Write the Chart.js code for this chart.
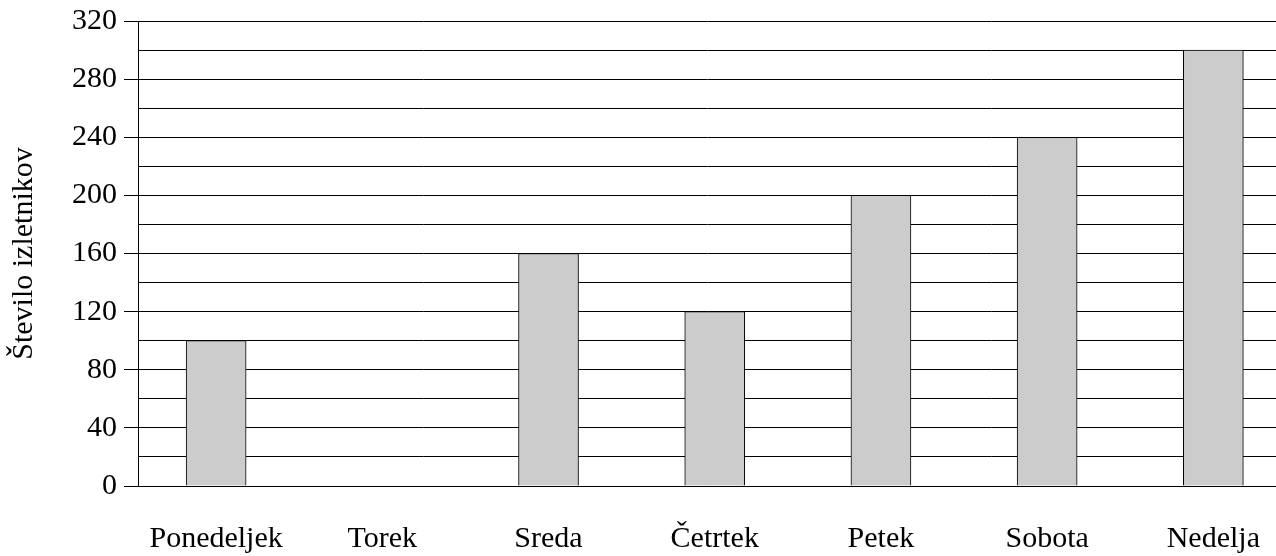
<!DOCTYPE html>
<html>
<head>
<meta charset="utf-8">
<script src="https://cdn.jsdelivr.net/npm/chart.js@4/dist/chart.umd.min.js"></script>
<style>
  html, body { margin: 0; padding: 0; background: #fff; }
  #wrap { width: 1276px; height: 556px; }
</style>
</head>
<body>
<div id="wrap"><canvas id="c" width="1276" height="556"></canvas></div>
<script>
// Number of hikers per day of the week
const days = ['Ponedeljek', 'Torek', 'Sreda', 'Četrtek', 'Petek', 'Sobota', 'Nedelja'];
const hikers = [100, 0, 160, 120, 200, 240, 300];
const yTickValues = [0, 40, 80, 120, 160, 200, 240, 280, 320];
const yTitle = 'Število izletnikov';

const serif = "'Liberation Serif', 'Times New Roman', serif";
const points = hikers.map((v, i) => ({ x: i, y: v }));

new Chart(document.getElementById('c'), {
  type: 'bar',
  data: {
    datasets: [{
      data: points,
      backgroundColor: '#cccccc',
      borderColor: '#000000',
      borderWidth: 1,
      barThickness: 60
    }]
  },
  options: {
    responsive: false,
    devicePixelRatio: 1,
    animation: false,
    layout: { padding: { top: 21, right: 0, bottom: 0, left: 0 } },
    plugins: { legend: { display: false }, tooltip: { enabled: false } },
    scales: {
      x: {
        type: 'linear',
        offset: false,
        bounds: 'data',
        min: -0.47,
        max: 6.377,
        afterBuildTicks: (scale) => { scale.ticks = days.map((d, i) => ({ value: i })); },
        afterFit: (scale) => {
          scale.height = 70;
          scale.paddingLeft = 0;
          scale.paddingRight = 0;
        },
        grid: { display: false, drawTicks: false, offset: false },
        border: { display: true, color: '#000', width: 1 },
        ticks: {
          autoSkip: false,
          maxRotation: 0,
          padding: 35,
          color: '#000',
          font: { family: serif, size: 30 },
          callback: (v) => (days[v] !== undefined) ? days[v] : ''
        }
      },
      y: {
        min: 0,
        max: 320,
        afterFit: (scale) => {
          scale.width = 138;
          scale.paddingTop = 0;
          scale.paddingBottom = 0;
        },
        grid: {
          color: '#000',
          lineWidth: 1,
          tickLength: 14,
          tickColor: (ctx) => (ctx.tick && yTickValues.includes(ctx.tick.value)) ? '#000' : 'rgba(0,0,0,0)'
        },
        border: { display: true, color: '#000', width: 1 },
        ticks: {
          stepSize: 20,
          maxTicksLimit: 40,
          autoSkip: false,
          padding: 7,
          color: '#000',
          font: { family: serif, size: 30 },
          callback: (v) => yTickValues.includes(v) ? String(v) : ''
        },
        title: {
          display: true,
          text: yTitle,
          color: '#000',
          font: { family: serif, size: 30 },
          padding: { top: 6, bottom: 0 }
        }
      }
    }
  }
});
</script>
</body>
</html>
